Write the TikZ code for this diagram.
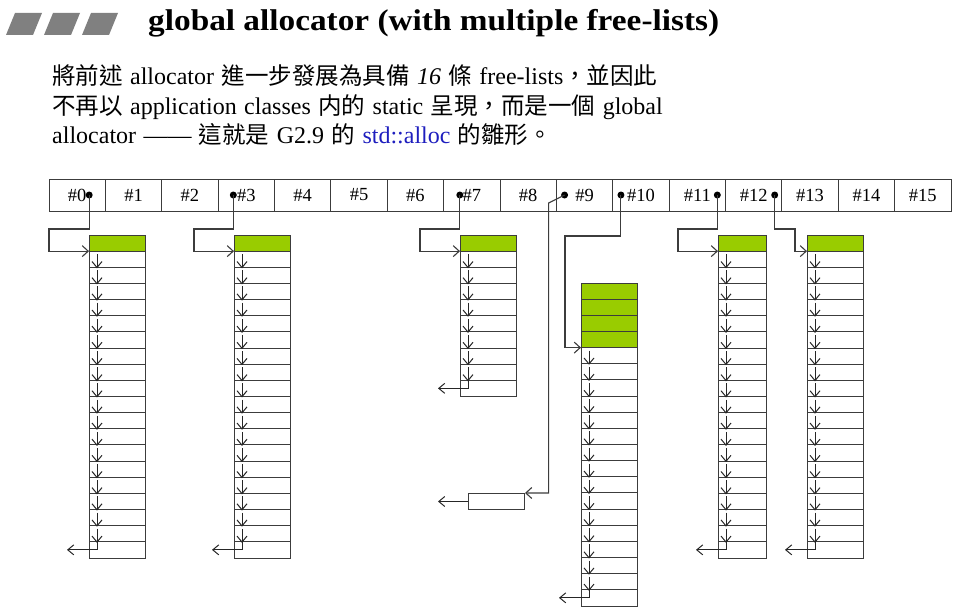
\documentclass[tikz,border=0pt]{standalone}
\usepackage{fontspec}
\setmainfont{Liberation Serif}
\newfontfamily\cjk[Scale=0.98]{Noto Sans CJK TC}
\newfontfamily\titlefont[FakeStretch=1.11]{Liberation Serif}
\usepackage{xcolor}
\usepackage{tikz}
\usetikzlibrary{shapes,arrows,arrows.meta,positioning,calc}

\definecolor{listgreen}{RGB}{153,204,0}
\definecolor{linegray}{RGB}{60,60,60}
\definecolor{titlegray}{RGB}{128,128,128}
\definecolor{stdblue}{RGB}{30,30,190}

\newcommand{\widesp}{\spaceskip=7.4pt plus 1pt\relax}

\tikzset{
  cell/.style={draw=linegray, line width=0.9pt, minimum width=56.375pt, minimum height=32pt, inner sep=0pt, font=\fontsize{18.5}{18.5}\selectfont},
  body/.style={anchor=base west, inner sep=0pt, font=\fontsize{24}{24}\selectfont},
  dot/.style={circle, fill=black, inner sep=0pt, minimum size=7pt},
  chunk/.style={draw=linegray, line width=1pt},
  link/.style={draw=black!85, line width=1pt, -{Straight Barb[length=6pt,width=10pt]}},
  ptr/.style={draw=linegray, line width=1.1pt, -{Straight Barb[length=6pt,width=11pt]}}
}

% free list: name, left, top, width, used chunks, free chunks
\newcommand{\freelist}[6]{%
  \foreach \k in {1,...,#5}
    \draw[chunk, fill=listgreen] (#2,{#3+(\k-1)*16.15}) rectangle ++(#4,16.15);
  \coordinate (#1) at (#2,{#3+#5*16.15});
  \foreach \k in {1,...,#6}
    \draw[chunk] ($(#1)+(0,{(\k-1)*16.15})$) rectangle ++(#4,16.15);
  \pgfmathtruncatemacro{\nlink}{#6-1}
  \foreach \k in {1,...,\nlink}
    \draw[link] ($(#1)+(8,{(\k-1)*16.15+3})$) -- ++(0,14.15);
  \draw[link] ($(#1)+(8,{\nlink*16.15})$) -- ++(0,8) -- ++(-30,0);
}

\begin{document}
\begin{tikzpicture}[x=1pt,y=-1pt]
\useasboundingbox (0,0) rectangle (966,615);

% Title
\foreach \i in {0,1,2}
  \fill[titlegray] ({6+38*\i},35) -- ++(27,0) -- ++(9,-22) -- ++(-27,0) -- cycle;
\node[anchor=base west, inner sep=0pt, font=\fontsize{30}{30}\selectfont\titlefont\bfseries] (title) at (148,31) {global allocator (with multiple free-lists)};

% Text
\node[body] (line1) at (52,85) {\widesp{\cjk 將前述} allocator {\cjk 進一步發展為具備} \textit{16} {\cjk 條} free-lists{\cjk ，並因此}};
\node[body] (line2) at (52,114) {\widesp{\cjk 不再以} application classes {\cjk 内的} static {\cjk 呈現，而是一個} global};
\node[body] (line3) at (52,143) {\widesp allocator —— {\cjk 這就是} G2.9 {\cjk 的} \textcolor{stdblue}{std::alloc} {\cjk 的雛形。}};

% Array of 16 free-list heads
\foreach \i in {0,...,15}
  \node[cell] (c\i) at ({49+56.375*(\i+0.5)},195) {\#\i};

% Free lists
\freelist{fl0}{89}{235}{56}{1}{19}
\freelist{fl3}{234}{235}{56}{1}{19}
\freelist{fl7}{460}{235}{56}{1}{9}
\freelist{fl10}{581}{283}{56}{4}{16}
\freelist{fl11}{718}{235}{48}{1}{19}
\freelist{fl12}{807}{235}{56}{1}{19}
\node[chunk, minimum width=56pt, minimum height=16pt, inner sep=0pt, anchor=north west] (sb) at (468,493) {};
\draw[link] (sb.west) -- ++(-30,0);

% Pointers
\node[dot] (d0) at ([xshift=12pt]c0.center) {};
\node[dot] (d3) at ([xshift=-13pt]c3.center) {};
\node[dot] (d7) at ([xshift=-12pt]c7.center) {};
\node[dot] (d9) at ([xshift=-20pt]c9.center) {};
\node[dot] (d10) at ([xshift=-20pt]c10.center) {};
\node[dot] (d11) at ([xshift=20pt]c11.center) {};
\node[dot] (d12) at ([xshift=21pt]c12.center) {};

\draw[ptr] (d0.center) -- ++(0,34) -| ([xshift=-40pt]fl0) -- (fl0);
\draw[ptr] (d3.center) -- ++(0,34) -| ([xshift=-40pt]fl3) -- (fl3);
\draw[ptr] (d7.center) -- ++(0,34) -| ([xshift=-40pt]fl7) -- (fl7);
\draw[ptr] (d9.center) -- ++(-16,8) |- (sb.north east);
\draw[ptr] (d10.center) -- ++(0,41) -| ([xshift=-16pt]fl10) -- (fl10);
\draw[ptr] (d11.center) -- ++(0,34) -| ([xshift=-40pt]fl11) -- (fl11);
\draw[ptr] (d12.center) -- ++(0,34) -| ([xshift=-12pt]fl12) -- (fl12);
\end{tikzpicture}
\end{document}
